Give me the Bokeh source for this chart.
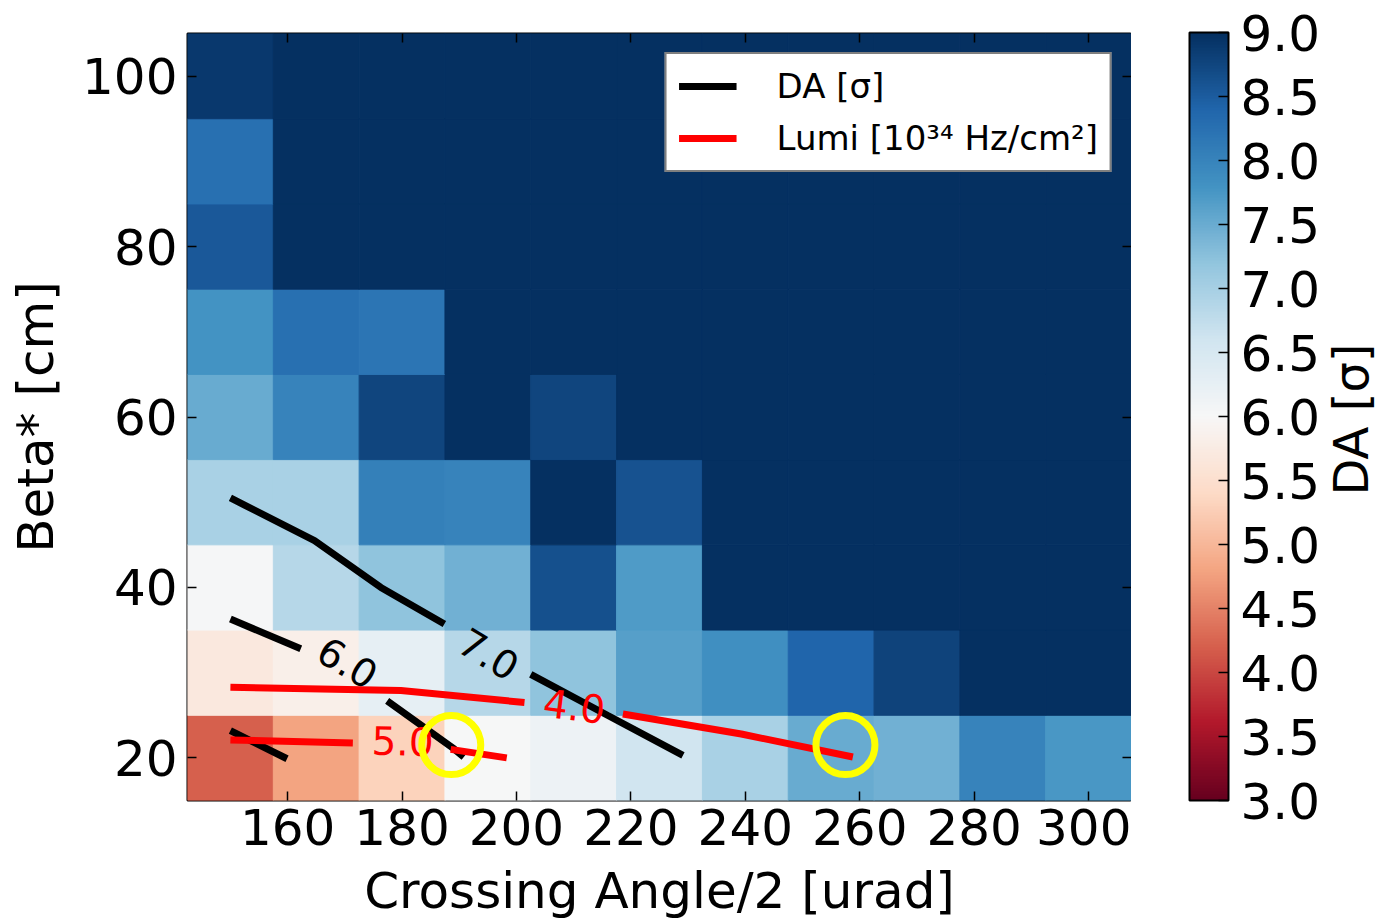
import numpy as np
from bokeh.plotting import figure
from bokeh.layouts import row
from bokeh.models import (ColumnDataSource, LinearColorMapper, ColorBar, FixedTicker,
                          LinearAxis, Label, Legend, LegendItem, NumeralTickFormatter, Range1d)
from bokeh.core.properties import value
from bokeh.embed import file_html
from bokeh.resources import INLINE

# ---------------- data ----------------
crossing_angle = [150, 165, 180, 195, 210, 225, 240, 255, 270, 285, 300]
beta_star = [20, 30, 40, 50, 60, 70, 80, 90, 100]

# DA [sigma] per cell, one row per beta* (bottom to top), columns follow crossing_angle
da_beta20 = [4.20, 4.80, 5.30, 6.00, 6.15, 6.60, 6.98, 7.50, 7.43, 8.00, 7.75]
da_beta30 = [5.68, 5.82, 6.27, 6.85, 7.20, 7.65, 7.85, 8.40, 8.78, 9.00, 9.00]
da_beta40 = [6.03, 6.85, 7.20, 7.43, 8.64, 7.70, 9.00, 9.00, 9.00, 9.00, 9.00]
da_beta50 = [6.98, 6.98, 8.05, 8.00, 9.00, 8.62, 9.00, 9.00, 9.00, 9.00, 9.00]
da_beta60 = [7.50, 8.00, 8.75, 9.00, 8.75, 9.00, 9.00, 9.00, 9.00, 9.00, 9.00]
da_beta70 = [7.80, 8.26, 8.20, 9.00, 9.00, 9.00, 9.00, 9.00, 9.00, 9.00, 9.00]
da_beta80 = [8.54, 9.00, 9.00, 9.00, 9.00, 9.00, 9.00, 9.00, 9.00, 9.00, 9.00]
da_beta90 = [8.25, 9.00, 9.00, 9.00, 9.00, 9.00, 9.00, 9.00, 9.00, 9.00, 9.00]
da_beta100 = [8.90, 9.00, 9.00, 9.00, 9.00, 9.00, 9.00, 9.00, 9.00, 9.00, 9.00]
da_rows = [da_beta20, da_beta30, da_beta40, da_beta50, da_beta60,
           da_beta70, da_beta80, da_beta90, da_beta100]

# DA contour segments (black), gaps left for the inline labels
da_contour_x = [[150.0, 164.7, 176.3, 187.4], [202.5, 215.9, 229.1],
                [150.0, 162.3], [177.4, 189.1, 190.8], [150.0, 159.9]]
da_contour_y = [[50.5, 45.5, 40.0, 35.7], [29.8, 25.0, 20.3],
                [36.3, 32.8], [26.7, 21.05, 20.1], [23.2, 19.9]]
da_label_x = [195.2, 170.5]
da_label_y = [32.2, 31.2]
da_label_text = ["7.0", "6.0"]
da_label_angle = [-31.0, -31.0]

# Luminosity contour segments (red)
lumi_contour_x = [[150.0, 179.8, 201.4], [218.6, 239.3, 258.8],
                  [150.0, 171.4], [188.5, 198.3]]
lumi_contour_y = [[28.3, 27.9, 26.5], [25.15, 22.8, 20.1],
                  [22.1, 21.75], [21.0, 20.0]]
lumi_label_x = [210.1, 180.1]
lumi_label_y = [26.1, 22.0]
lumi_label_text = ["4.0", "5.0"]
lumi_label_angle = [-7.0, -1.5]

# highlighted working points
marker_x = [188.6, 257.5]
marker_y = [21.5, 21.5]

x_ticks = [160, 180, 200, 220, 240, 260, 280, 300]
y_ticks = [20, 40, 60, 80, 100]
cbar_ticks = [3.0, 3.5, 4.0, 4.5, 5.0, 5.5, 6.0, 6.5, 7.0, 7.5, 8.0, 8.5, 9.0]

# ---------------- colormap (matplotlib RdBu) ----------------
rdbu_anchors = ["#67001f", "#b2182b", "#d6604d", "#f4a582", "#fddbc7", "#f7f7f7",
                "#d1e5f0", "#92c5de", "#4393c3", "#2166ac", "#053061"]
anc = np.array([[int(h[i:i + 2], 16) for i in (1, 3, 5)] for h in rdbu_anchors], float)
pos = np.linspace(0, 1, len(rdbu_anchors))
t = np.linspace(0, 1, 256)
rgb = np.stack([np.interp(t, pos, anc[:, k]) for k in range(3)], axis=1)
palette = ["#%02x%02x%02x" % tuple(int(round(c)) for c in r) for r in rgb]
mapper = LinearColorMapper(palette=palette, low=3.0, high=9.0)

FONT = "DejaVu Sans"

cells_x, cells_y, cells_v = [], [], []
for yi, vals in zip(beta_star, da_rows):
    for xi, v in zip(crossing_angle, vals):
        cells_x.append(xi)
        cells_y.append(yi)
        cells_v.append(v)
cells = ColumnDataSource(dict(x=cells_x, y=cells_y, da=cells_v))

p = figure(width=1131, height=922,
           x_range=Range1d(142.5, 307.5), y_range=Range1d(15, 105),
           output_backend="svg", toolbar_location=None,
           min_border_left=187, min_border_top=33, min_border_bottom=121,
           min_border_right=0)
p.grid.visible = False
p.outline_line_color = "black"
p.outline_line_width = 2
p.background_fill_color = "white"

p.rect(x="x", y="y", width=15, height=10, source=cells,
       fill_color={"field": "da", "transform": mapper},
       line_color={"field": "da", "transform": mapper}, line_width=1)

da_r = p.multi_line(xs=da_contour_x, ys=da_contour_y, line_color="black", line_width=7)
lumi_r = p.multi_line(xs=lumi_contour_x, ys=lumi_contour_y, line_color="#ff0000", line_width=7)

p.text(x=da_label_x, y=da_label_y, text=da_label_text, angle=da_label_angle,
       angle_units="deg", text_color="black", text_font=value(FONT),
       text_font_size="39px", text_align="center", text_baseline="middle")
p.text(x=lumi_label_x, y=lumi_label_y, text=lumi_label_text, angle=lumi_label_angle,
       angle_units="deg", text_color="#ff0000", text_font=value(FONT),
       text_font_size="39px", text_align="center", text_baseline="middle")

p.scatter(x=marker_x, y=marker_y, marker="circle", size=59, fill_color=None,
          line_color="#ffff00", line_width=7)


def style_axis(ax, ticks):
    ax.ticker = FixedTicker(ticks=ticks)
    ax.axis_line_color = None
    ax.major_tick_in = 9
    ax.major_tick_out = 0
    ax.major_tick_line_color = "black"
    ax.major_tick_line_width = 1.5
    ax.minor_tick_line_color = None
    ax.major_label_text_font = FONT
    ax.axis_label_text_font = FONT
    ax.axis_label_text_font_style = "normal"
    ax.major_label_text_color = "black"
    ax.axis_label_text_color = "black"
    ax.major_label_text_font_size = "50px"
    ax.axis_label_text_font_size = "50px"


def tick_only_axis(ticks):
    # ticks drawn as minor ticks only, so the axis carries no labels
    ax = LinearAxis(ticker=FixedTicker(ticks=[], minor_ticks=ticks))
    ax.axis_line_color = None
    ax.major_tick_line_color = None
    ax.minor_tick_in = 9
    ax.minor_tick_out = 0
    ax.minor_tick_line_color = "black"
    ax.minor_tick_line_width = 1.5
    ax.major_label_standoff = 0
    return ax


style_axis(p.xaxis[0], x_ticks)
style_axis(p.yaxis[0], y_ticks)
p.xaxis[0].axis_label = "Crossing Angle/2 [urad]"
p.yaxis[0].axis_label = "Beta* [cm]"
p.xaxis[0].major_label_standoff = 8
p.xaxis[0].axis_label_standoff = 14
p.yaxis[0].major_label_standoff = 10
p.yaxis[0].axis_label_standoff = 14

p.add_layout(tick_only_axis(x_ticks), "above")
p.add_layout(tick_only_axis(y_ticks), "right")

legend = Legend(items=[LegendItem(label="DA [σ]", renderers=[da_r]),
                       LegendItem(label="Lumi [10³⁴ Hz/cm²]", renderers=[lumi_r])],
                location="top_right", margin=19, padding=12, spacing=12,
                glyph_width=58, glyph_height=34, label_height=34, label_standoff=40,
                label_text_font=FONT, label_text_font_size="34px", label_text_color="black",
                border_line_color="black", border_line_width=2,
                background_fill_color="white", background_fill_alpha=1.0)
p.add_layout(legend)

# ---------------- colorbar panel (frame is aligned with the main frame) ----------------
cb = figure(width=249, height=922, min_border=0,
            x_range=Range1d(0, 1), y_range=Range1d(0, 1),
            x_axis_location=None, y_axis_location=None,
            output_backend="svg", toolbar_location=None)
cb.outline_line_color = None
cb.grid.visible = False

cbar = ColorBar(color_mapper=mapper, ticker=FixedTicker(ticks=cbar_ticks),
                formatter=NumeralTickFormatter(format="0.0"),
                width=39, height=768, padding=0, margin=0, location=(58, 0),
                major_label_text_font=FONT, major_label_text_font_size="50px",
                major_label_text_color="black",
                major_tick_line_color="black", major_tick_in=10, major_tick_out=0,
                major_tick_line_width=1.5,
                bar_line_color="black", bar_line_width=2, label_standoff=12,
                background_fill_alpha=0, border_line_color=None)
cb.add_layout(cbar)

cb.add_layout(Label(x=219, y=381, x_units="screen", y_units="screen", text="DA [σ]",
                    angle=90, angle_units="deg", text_align="center", text_baseline="middle",
                    text_font=FONT, text_font_size="48px", text_color="black"))

layout = row(p, cb)
open("out.html", "w").write(file_html(layout, INLINE))
